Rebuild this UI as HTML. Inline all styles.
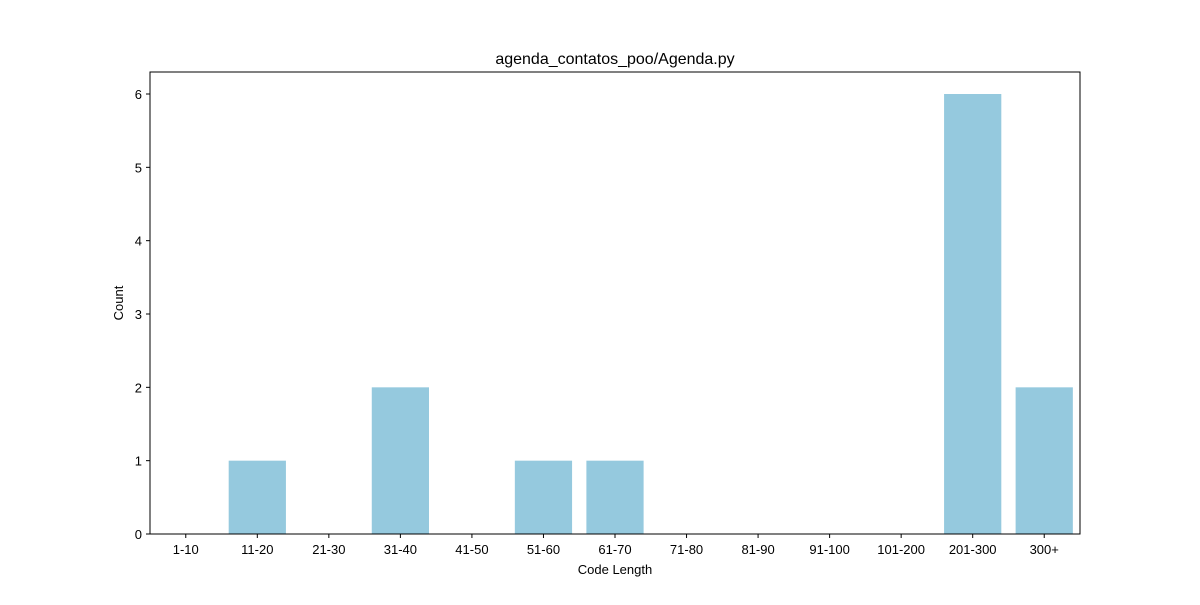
<!DOCTYPE html>
<html><head><meta charset="utf-8"><style>
body{margin:0;background:#fff;}
svg text{font-family:"Liberation Sans","DejaVu Sans",sans-serif;fill:#000;}
</style></head><body>
<svg id="chart" width="1200" height="600" xmlns="http://www.w3.org/2000/svg">
<rect width="1200" height="600" fill="#fff"/>
<text x="615" y="64" font-size="16" text-anchor="middle">agenda_contatos_poo/Agenda.py</text>
<g id="bars"></g>
<g id="xticks"></g>
<g id="yticks"></g>
<rect x="150" y="72" width="930" height="462" fill="none" stroke="#000" stroke-width="1"/>
<text x="615" y="574" font-size="13" text-anchor="middle">Code Length</text>
<text x="0" y="0" font-size="13" text-anchor="middle" transform="translate(123,303) rotate(-90)">Count</text>
</svg>
<script>
const categories=["1-10","11-20","21-30","31-40","41-50","51-60","61-70","71-80","81-90","91-100","101-200","201-300","300+"];
const counts=[0,1,0,2,0,1,1,0,0,0,0,6,2];
const yTicks=[0,1,2,3,4,5,6];
const L=150,R=1080,T=72,B=534,yMax=6.3;
const ns="http://www.w3.org/2000/svg";
const step=(R-L)/categories.length;
const xc=i=>L+(i+0.5)*step;
const y=v=>B-(v/yMax)*(B-T);
const bars=document.getElementById('bars'),xt=document.getElementById('xticks'),yt=document.getElementById('yticks');
function mk(t,a){const e=document.createElementNS(ns,t);for(const k in a)e.setAttribute(k,a[k]);return e;}
categories.forEach((c,i)=>{
 const v=counts[i];
 const r=mk('rect',{x:xc(i)-step*0.4,y:y(v),width:step*0.8,height:B-y(v),fill:'#95c9de'});
 
 
 bars.appendChild(r);
 const l=mk('line',{x1:xc(i),x2:xc(i),y1:B,y2:B+4,stroke:'#000'});
 
 
 xt.appendChild(l);
 const t=mk('text',{x:xc(i),y:B+20,'font-size':13,'text-anchor':'middle'});
 t.textContent=c;
 
 
 xt.appendChild(t);
});
yTicks.forEach(v=>{
 const l=mk('line',{x1:L-4,x2:L,y1:y(v),y2:y(v),stroke:'#000'});
 
 
 yt.appendChild(l);
 const t=mk('text',{x:L-8,y:y(v)+5,'font-size':13,'text-anchor':'end'});
 t.textContent=v;
 
 
 yt.appendChild(t);
});
</script>
</body></html>
